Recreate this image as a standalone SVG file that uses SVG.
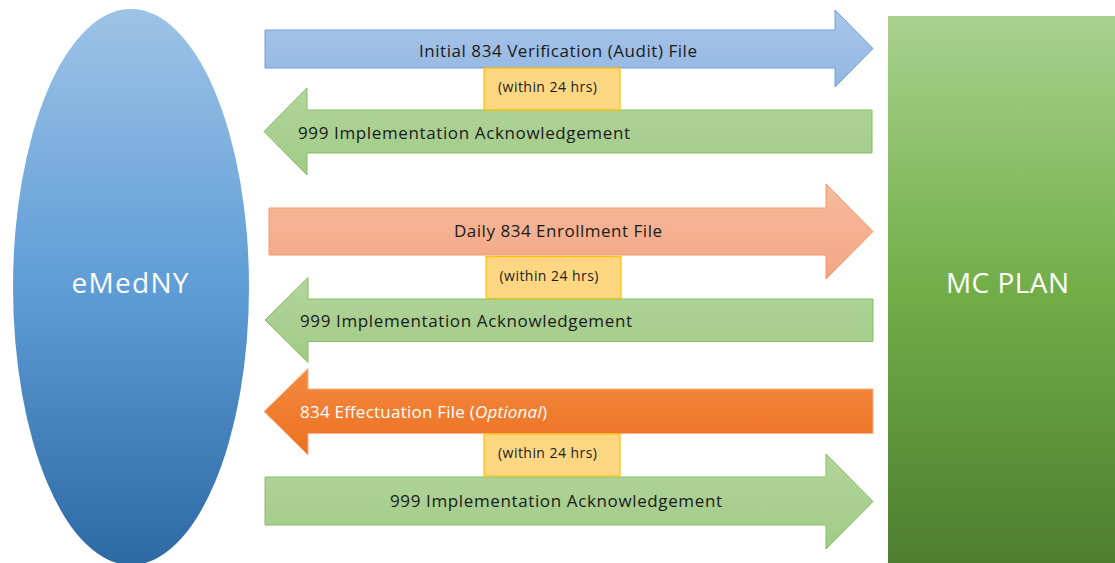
<svg xmlns="http://www.w3.org/2000/svg" width="1115" height="563" viewBox="0 0 1115 563">
<defs>
<linearGradient id="gEll" x1="0" y1="0" x2="0" y2="1"><stop offset="0" stop-color="#9dc3e6"/><stop offset="0.5" stop-color="#5f9dd6"/><stop offset="1" stop-color="#2d69a5"/></linearGradient>
<linearGradient id="gPlan" x1="0" y1="0" x2="0" y2="1"><stop offset="0" stop-color="#a9d18e"/><stop offset="0.5" stop-color="#72ae48"/><stop offset="1" stop-color="#4e7d30"/></linearGradient>
<linearGradient id="gBlue" x1="0" y1="0" x2="0" y2="1"><stop offset="0" stop-color="#aac6ea"/><stop offset="1" stop-color="#92b6e2"/></linearGradient>
<linearGradient id="gGreen" x1="0" y1="0" x2="0" y2="1"><stop offset="0" stop-color="#b2d59c"/><stop offset="1" stop-color="#a1cb86"/></linearGradient>
<linearGradient id="gSalmon" x1="0" y1="0" x2="0" y2="1"><stop offset="0" stop-color="#f6bb9d"/><stop offset="1" stop-color="#f4a683"/></linearGradient>
<linearGradient id="gOrange" x1="0" y1="0" x2="0" y2="1"><stop offset="0" stop-color="#f48a40"/><stop offset="1" stop-color="#ec7020"/></linearGradient>
</defs>
<style>
.t{font-family:"Open Sans","Liberation Sans",sans-serif;font-size:17px;fill:#1a1a1a}
.s{font-family:"Open Sans","Liberation Sans",sans-serif;font-size:14px;fill:#1a1a1a;text-anchor:middle}
.big{font-family:"Open Sans","Liberation Sans",sans-serif;font-size:28px;fill:#ffffff;text-anchor:middle}
.box{fill:#ffd783;stroke:#ffc000;stroke-width:1.2}
.blue{fill:url(#gBlue);stroke:#6fa0d9;stroke-width:1}
.green{fill:url(#gGreen);stroke:#86bd66;stroke-width:1}
.salmon{fill:url(#gSalmon);stroke:#f29a66;stroke-width:1}
.orange{fill:url(#gOrange);stroke:#f6b48a;stroke-width:1}
</style>
<rect width="1115" height="563" fill="#ffffff"/>
<g id="emedny">
<ellipse cx="131" cy="287" rx="118" ry="278" fill="url(#gEll)"/>
<text class="big" x="130" y="293" textLength="117">eMedNY</text>
</g>
<g id="mcplan">
<rect x="888" y="16" width="227" height="547" fill="url(#gPlan)"/>
<text class="big" x="1007.5" y="293.3" textLength="123">MC PLAN</text>
</g>
<g id="connectors">
<g id="a1">
<path class="blue" d="M265,30 H835 V10 L873,48.5 L835,87 V68 H265 Z"/>
<text class="t" x="558" y="57.3" text-anchor="middle" textLength="278">Initial 834 Verification (Audit) File</text>
</g>
<g id="a2">
<path class="green" d="M872,110 H307 V88 L264,131.5 L307,175 V153 H872 Z"/>
<text class="t" x="298" y="138.5" textLength="332">999 Implementation Acknowledgement</text>
</g>
<g id="a3">
<path class="salmon" d="M269,208 H826 V184 L873,231.5 L826,279 V255 H269 Z"/>
<text class="t" x="558" y="236.7" text-anchor="middle" textLength="208">Daily 834 Enrollment File</text>
</g>
<g id="a4">
<path class="green" d="M873,299 H308 V277.5 L265,320 L308,362.5 V341.5 H873 Z"/>
<text class="t" x="300" y="327.3" textLength="332">999 Implementation Acknowledgement</text>
</g>
<g id="a5">
<path class="orange" d="M873,389 H308 V368.5 L264,411.5 L308,455 V433.5 H873 Z"/>
<text class="t" x="300" y="418.3" textLength="247" style="fill:#ffffff">834 Effectuation File (<tspan font-style="italic">Optional</tspan>)</text>
</g>
<g id="a6">
<path class="green" d="M265,477 H826 V454 L873,501.5 L826,549 V525 H265 Z"/>
<text class="t" x="556" y="506.6" text-anchor="middle" textLength="332">999 Implementation Acknowledgement</text>
</g>
</g>
<g id="timing1">
<rect class="box" x="484" y="68" width="136" height="42"/>
<text class="s" x="547.5" y="91.7" textLength="99">(within 24 hrs)</text>
</g>
<g id="timing2">
<rect class="box" x="486" y="256.5" width="135" height="42"/>
<text class="s" x="549" y="280.5" textLength="99">(within 24 hrs)</text>
</g>
<g id="timing3">
<rect class="box" x="484" y="434" width="136" height="42"/>
<text class="s" x="547.5" y="458.3" textLength="99">(within 24 hrs)</text>
</g>
</svg>
